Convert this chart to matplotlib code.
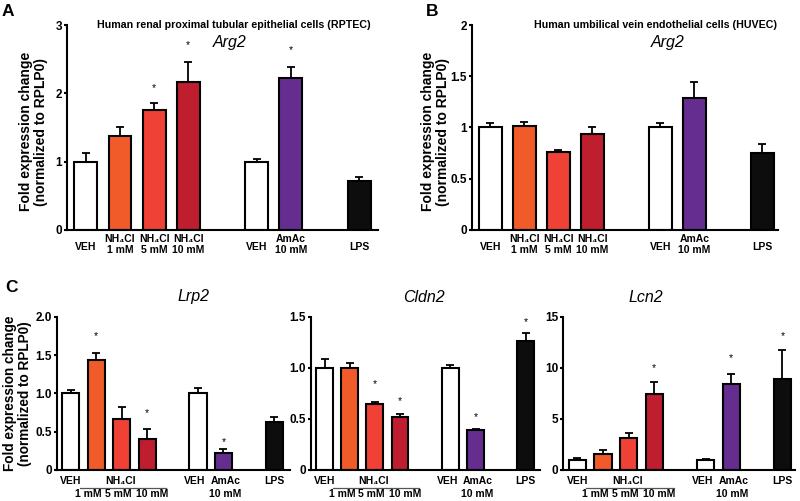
import numpy as np
import matplotlib
matplotlib.use('Agg')
from matplotlib import pyplot as plt
from matplotlib import transforms

# bar positions and colours shared by every panel
pos = [0, 1, 2, 3, 5, 6, 8]
cols = ['white', '#F15A29', '#EF4136', '#BE1E2D', 'white', '#662D91', '#0D0D0D']

# A: RPTEC Arg2  (star heights, None = no star)
a_val = [1.0, 1.37, 1.76, 2.17, 1.0, 2.23, 0.71]
a_err = [0.13, 0.14, 0.10, 0.29, 0.04, 0.15, 0.06]
a_star = [None, None, 2.08, 2.70, None, 2.63, None]

# B: HUVEC Arg2
b_val = [1.0, 1.01, 0.76, 0.94, 1.0, 1.29, 0.75]
b_err = [0.04, 0.045, 0.025, 0.065, 0.045, 0.15, 0.09]
b_star = [None] * 7

# C: RPTEC Lrp2, Cldn2, Lcn2
lrp2_val = [1.0, 1.44, 0.67, 0.40, 1.0, 0.22, 0.62]
lrp2_err = [0.05, 0.08, 0.15, 0.13, 0.07, 0.05, 0.07]
lrp2_star = [None, 1.75, None, 0.74, None, 0.36, None]

cldn2_val = [1.0, 1.0, 0.65, 0.52, 1.0, 0.39, 1.26]
cldn2_err = [0.09, 0.05, 0.02, 0.03, 0.03, 0.015, 0.08]
cldn2_star = [None, None, 0.84, 0.67, None, 0.52, 1.45]

lcn2_val = [1.0, 1.6, 3.15, 7.4, 1.0, 8.45, 8.95]
lcn2_err = [0.15, 0.35, 0.45, 1.25, 0.05, 0.95, 2.75]
lcn2_star = [None, None, None, 9.98, None, 10.95, 13.1]

ab_labels = ['VEH', 'NH\u2084Cl\n1 mM', 'NH\u2084Cl\n5 mM', 'NH\u2084Cl\n10 mM',
             'VEH', 'AmAc\n10 mM', 'LPS']
ylab = 'Fold expression change\n(normalized to RPLP0)'

plt.rcParams['font.family'] = 'Liberation Sans'

fig = plt.figure(figsize=(8, 5.01), dpi=100)


def bars(ax, val, err, stars, ymax, yticks, yticklabels, xmax):
    ax.bar(pos, val, width=0.67, color=cols, edgecolor='black', linewidth=1.5, zorder=2)
    ax.errorbar(pos, val, yerr=[np.zeros(len(err)), err], fmt='none', ecolor='black',
                elinewidth=1.3, capsize=3, capthick=1.3, zorder=1)
    for x, s in zip(pos, stars):
        if s is not None:
            ax.text(x, s, '*', ha='center', va='center', fontsize=7.5)
    ax.set_xlim(-0.55, xmax)
    ax.set_ylim(0, ymax)
    ax.set_yticks(yticks)
    ax.set_yticklabels(yticklabels, fontweight='bold', fontsize=8.5)
    ax.spines['top'].set_visible(False)
    ax.spines['right'].set_visible(False)
    ax.spines['left'].set_linewidth(1.5)
    ax.spines['bottom'].set_linewidth(1.5)
    ax.tick_params(axis='y', length=2.5, width=1.5, pad=1)
    ax.set_xticks([])


def ab_xlabels(ax):
    tr = transforms.blended_transform_factory(ax.transData, ax.transAxes)
    for x, s in zip(pos, ab_labels):
        yy = -0.07 if '\n' in s else -0.085
        ax.text(x, yy, s, transform=tr, ha='center', va='center', fontsize=7.5,
                fontweight='bold', linespacing=1.15)


# panel A
axA = fig.add_axes([67/800, 1-230/501, 311/800, 205/501])
bars(axA, a_val, a_err, a_star, 3, [0, 1, 2, 3], ['0', '1', '2', '3'], 8.55)
ab_xlabels(axA)
axA.set_ylabel(ylab, fontweight='bold', fontsize=10, linespacing=1.1)
axA.yaxis.set_label_coords(-0.062, 0.48)
fig.text(234/800, 1-25/501, 'Human renal proximal tubular epithelial cells (RPTEC)',
         ha='center', va='center', fontsize=7.7, fontweight='bold')
fig.text(230/800, 1-42/501, 'Arg2', ha='center', va='center', fontsize=11.5, style='italic')
fig.text(8/800, 1-11/501, 'A', ha='center', va='center', fontsize=12.5, fontweight='bold')

# panel B
axB = fig.add_axes([471.7/800, 1-230/501, 306/800, 205/501])
bars(axB, b_val, b_err, b_star, 2, [0, 0.5, 1, 1.5, 2], ['0', '0.5', '1', '1.5', '2'], 8.45)
ab_xlabels(axB)
axB.set_ylabel(ylab, fontweight='bold', fontsize=10, linespacing=1.1)
axB.yaxis.set_label_coords(-0.072, 0.48)
fig.text(655/800, 1-25/501, 'Human umbilical vein endothelial cells (HUVEC)',
         ha='center', va='center', fontsize=7.7, fontweight='bold')
fig.text(668/800, 1-43/501, 'Arg2', ha='center', va='center', fontsize=11.5, style='italic')
fig.text(432/800, 1-11/501, 'B', ha='center', va='center', fontsize=12.5, fontweight='bold')


def c_labels(ax):
    tr = transforms.blended_transform_factory(ax.transData, ax.transAxes)
    for x, s in [(0, 'VEH'), (1.95, 'NH\u2084Cl'), (4.88, 'VEH'), (6.1, 'AmAc'), (8, 'LPS')]:
        ax.text(x, -0.07, s, transform=tr, ha='center', va='center',
                fontsize=7.5, fontweight='bold')
    for x, s in [(0.7, '1 mM'), (1.85, '5 mM'), (3.2, '10 mM'), (6.05, '10 mM')]:
        ax.text(x, -0.155, s, transform=tr, ha='center', va='center',
                fontsize=7.5, fontweight='bold')
    ax.plot([0.35, 3.76], [-0.12, -0.12], transform=tr, color='#555555',
            linewidth=0.9, clip_on=False)


# panel C
c_y0 = 1 - 470/501
c_h = 153.3/501
axC1 = fig.add_axes([56.7/800, c_y0, 233/800, c_h])
bars(axC1, lrp2_val, lrp2_err, lrp2_star, 2.0, [0, 0.5, 1.0, 1.5, 2.0],
     ['0', '0.5', '1.0', '1.5', '2.0'], 8.6)
c_labels(axC1)
axC1.set_ylabel(ylab, fontweight='bold', fontsize=9.8, linespacing=1.1)
axC1.yaxis.set_label_coords(-0.105, 0.5)
fig.text(193/800, 1-297/501, 'Lrp2', ha='center', va='center', fontsize=11.5, style='italic')

axC2 = fig.add_axes([310.7/800, c_y0, 229/800, c_h])
bars(axC2, cldn2_val, cldn2_err, cldn2_star, 1.5, [0, 0.5, 1.0, 1.5],
     ['0', '0.5', '1.0', '1.5'], 8.55)
c_labels(axC2)
fig.text(424/800, 1-297/501, 'Cldn2', ha='center', va='center', fontsize=11.5, style='italic')

axC3 = fig.add_axes([563.3/800, c_y0, 232/800, c_h])
bars(axC3, lcn2_val, lcn2_err, lcn2_star, 15, [0, 5, 10, 15],
     ['0', '5', '10', '15'], 8.5)
c_labels(axC3)
fig.text(646/800, 1-297/501, 'Lcn2', ha='center', va='center', fontsize=11.5, style='italic')

fig.text(12/800, 1-288/501, 'C', ha='center', va='center', fontsize=12.5, fontweight='bold')

fig.savefig('out.png', dpi=100)
